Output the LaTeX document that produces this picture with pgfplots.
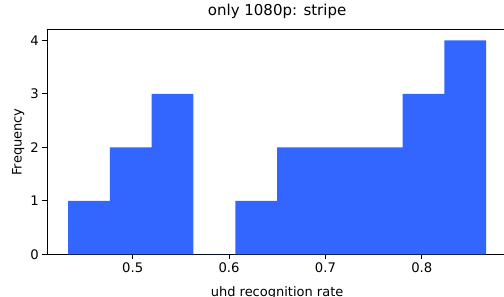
\documentclass[border=0pt]{standalone}
\usepackage{fontspec}
\setmainfont{DejaVu Sans}
\usepackage{pgfplots}
\pgfplotsset{compat=1.18}
\definecolor{barblue}{RGB}{51,102,255}
\begin{document}
\begin{tikzpicture}
\begin{axis}[
  at={(0,0)}, anchor=south west,
  scale only axis, width=460pt, height=224.6pt,
  xmin=0.4112, xmax=0.8885, ymin=0, ymax=4.2,
  xtick={0.5,0.6,0.7,0.8}, ytick={0,1,2,3,4},
  xticklabels={0.5,0.6,0.7,0.8},
  xtick pos=left, ytick pos=left,
  tick align=outside, major tick length=4.8pt,
  tick style={black, line width=1.1pt},
  axis line style={black, line width=1.1pt},
  /pgf/number format/assume math mode=true,
  tick label style={font=\fontsize{13.2}{16}\selectfont},
  label style={font=\fontsize{13}{16}\selectfont},
  title={only 1080p: stripe},
  title style={font=\fontsize{15}{18}\selectfont, at={([yshift=8pt]axis description cs:0.5,1)}, anchor=base},
  xlabel={uhd recognition rate},
  xlabel style={at={([yshift=-42pt]axis description cs:0.5,0)}, anchor=base},
  ylabel={Frequency},
  ylabel style={at={([xshift=-25.5pt]axis description cs:0,0.5)}, anchor=base},
]
\addplot[ybar interval, fill=barblue, draw=none] coordinates {
  (0.4329,1) (0.4763,2) (0.5197,3) (0.5631,0) (0.6065,1)
  (0.6499,2) (0.6933,2) (0.7367,2) (0.7801,3) (0.8234,4) (0.8668,4)
};
\end{axis}
\pgfresetboundingbox
\path[use as bounding box] (-47.1pt,-42.7pt) rectangle (456.9pt,254.3pt);
\end{tikzpicture}
\end{document}
